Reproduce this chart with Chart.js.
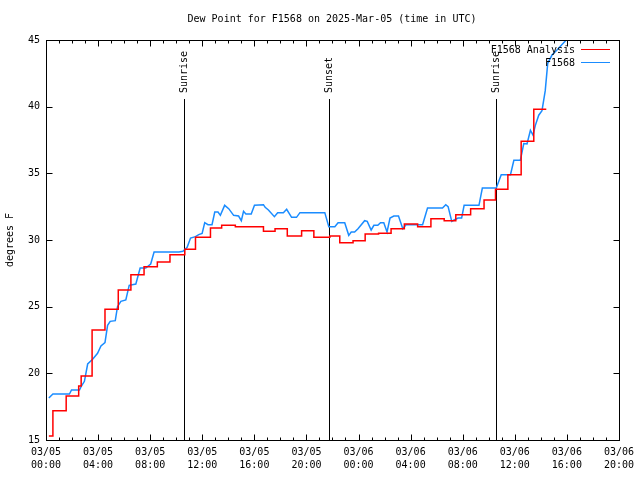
<!DOCTYPE html>
<html>
<head>
<meta charset="utf-8">
<script src="https://cdn.jsdelivr.net/npm/chart.js@4"></script>
<style>
  html, body { margin: 0; padding: 0; background: #fff; }
  #wrap { width: 640px; height: 480px; }
</style>
</head>
<body>
<div id="wrap"><canvas id="dewChart" width="640" height="480"></canvas></div>
<script>
// hours since 03/05 00:00 UTC
const analysisHours = [0.22, 0.53, 1.55, 2.51, 2.70, 3.54, 4.53, 5.55, 6.52, 7.53, 8.55, 9.52,
  10.66, 11.48, 12.63, 13.49, 14.54, 16.70, 17.59, 18.53, 19.63, 20.57, 21.80, 22.56, 23.58,
  24.51, 25.54, 26.50, 27.52, 28.54, 29.56, 30.58, 31.47, 32.61, 33.64, 34.52, 35.47, 36.49,
  37.46, 38.42];
const analysisValues = [15.3, 17.2, 18.3, 19.05, 19.8, 23.25, 24.8, 26.25, 27.4, 28.0, 28.35, 28.9,
  29.3, 30.2, 30.9, 31.1, 31.0, 30.65, 30.85, 30.3, 30.7, 30.2, 30.3, 29.8, 29.95,
  30.45, 30.5, 30.85, 31.2, 31.0, 31.6, 31.45, 31.9, 32.35, 33.0, 33.8, 34.9, 37.4,
  39.8, 39.8];

const obsHours = [0.22, 0.53, 1.80, 1.96, 2.57, 2.72, 2.95, 3.20, 3.58, 3.96, 4.22, 4.53, 4.73,
  4.93, 5.32, 5.49, 5.75, 6.13, 6.39, 6.90, 7.23, 7.66, 8.04, 8.30, 10.21, 10.51, 10.84, 11.10,
  11.48, 11.73, 11.99, 12.19, 12.44, 12.75, 12.96, 13.21, 13.39, 13.72, 14.03, 14.41, 14.79,
  15.00, 15.17, 15.35, 15.76, 16.01, 16.70, 16.83, 17.08, 17.54, 17.79, 18.23, 18.48, 18.86,
  19.24, 19.50, 21.41, 21.72, 22.18, 22.43, 22.94, 23.25, 23.44, 23.70, 23.96, 24.47, 24.67,
  24.97, 25.18, 25.48, 25.69, 25.94, 26.19, 26.42, 26.71, 27.07, 27.40, 27.65, 28.92, 29.30,
  30.45, 30.70, 30.88, 31.16, 31.34, 31.65, 31.92, 32.11, 33.25, 33.51, 34.58, 34.96, 35.67,
  35.93, 36.43, 36.69, 36.94, 37.20, 37.40, 37.58, 37.84, 38.09, 38.34, 38.53, 38.86, 39.24,
  39.95];
const obsValues = [18.15, 18.45, 18.45, 18.75, 18.75, 19.05, 19.4, 20.7, 21.05, 21.5, 22.05, 22.3, 23.6,
  23.9, 23.95, 25.0, 25.4, 25.5, 26.6, 26.7, 27.9, 27.9, 28.2, 29.1, 29.1, 29.15, 29.45, 30.15,
  30.25, 30.4, 30.5, 31.3, 31.15, 31.15, 32.1, 32.1, 31.85, 32.6, 32.35, 31.85, 31.8,
  31.45, 32.15, 31.95, 31.95, 32.6, 32.65, 32.45, 32.25, 31.75, 32.05, 32.05, 32.3, 31.7,
  31.7, 32.05, 32.05, 31.0, 31.0, 31.3, 31.3, 30.35, 30.6, 30.6, 30.85, 31.45, 31.4,
  30.75, 31.1, 31.1, 31.3, 31.3, 30.6, 31.65, 31.8, 31.8, 30.85, 31.15, 31.15, 32.4,
  32.4, 32.65, 32.5, 31.4, 31.5, 31.65, 31.65, 32.6, 32.6, 33.9, 33.9, 34.9, 34.9,
  35.98, 35.98, 37.23, 37.2, 38.23, 37.86, 38.6, 39.36, 39.7, 41.2, 43.25, 43.87, 44.25,
  45.0];

const eventNames = ['Sunrise', 'Sunset', 'Sunrise'];
const eventHours = [10.58, 21.74, 34.55];

const xTickLabels = [
  ['03/05', '00:00'], ['03/05', '04:00'], ['03/05', '08:00'], ['03/05', '12:00'],
  ['03/05', '16:00'], ['03/05', '20:00'], ['03/06', '00:00'], ['03/06', '04:00'],
  ['03/06', '08:00'], ['03/06', '12:00'], ['03/06', '16:00'], ['03/06', '20:00']
];

const seriesNames = ['F1568 Analysis', 'F1568'];
const seriesColors = ['#ff0000', '#1a8cff'];

const FONT = '10px "DejaVu Sans Mono", "Liberation Mono", monospace';

function toPoints(xs, ys) {
  return xs.map((x, i) => ({ x: x, y: ys[i] }));
}

// gnuplot-like frame: border, inward ticks, sunrise/sunset markers, legend, titles
const gnuplotFrame = {
  id: 'gnuplotFrame',
  beforeDatasetsDraw(chart) {
    const ctx = chart.ctx;
    const xs = chart.scales.x;
    const area = chart.chartArea;
    ctx.save();
    ctx.strokeStyle = '#000';
    ctx.lineWidth = 1;
    ctx.fillStyle = '#000';
    ctx.font = FONT;
    eventHours.forEach((h, i) => {
      const px = Math.round(xs.getPixelForValue(h)) + 0.5;
      ctx.beginPath();
      ctx.moveTo(px, 99);
      ctx.lineTo(px, area.bottom);
      ctx.stroke();
      ctx.save();
      ctx.translate(px, 93);
      ctx.rotate(-Math.PI / 2);
      ctx.textAlign = 'left';
      ctx.textBaseline = 'middle';
      ctx.fillText(eventNames[i], 0, 0);
      ctx.restore();
    });
    ctx.restore();
  },
  afterDraw(chart) {
    const ctx = chart.ctx;
    const xs = chart.scales.x;
    const ys = chart.scales.y;
    const a = chart.chartArea;
    const L = Math.round(a.left) + 0.5, R = Math.round(a.right) + 0.5;
    const T = Math.round(a.top) + 0.5, B = Math.round(a.bottom) + 0.5;
    ctx.save();
    ctx.strokeStyle = '#000';
    ctx.lineWidth = 1;
    ctx.strokeRect(L, T, R - L, B - T);

    ctx.beginPath();
    for (let h = 0; h <= 44; h++) {
      const px = Math.round(xs.getPixelForValue(h)) + 0.5;
      const len = h % 4 === 0 ? 6 : 3;
      ctx.moveTo(px, B); ctx.lineTo(px, B - len);
      ctx.moveTo(px, T); ctx.lineTo(px, T + len);
    }
    for (let v = 15; v <= 45; v += 5) {
      const py = Math.round(ys.getPixelForValue(v)) + 0.5;
      ctx.moveTo(L, py); ctx.lineTo(L + 6, py);
      ctx.moveTo(R, py); ctx.lineTo(R - 6, py);
    }
    ctx.stroke();

    // legend
    ctx.font = FONT;
    ctx.fillStyle = '#000';
    ctx.textAlign = 'right';
    ctx.textBaseline = 'middle';
    seriesNames.forEach((name, i) => {
      const y = 50 + i * 13;
      ctx.fillText(name, 575, y);
      ctx.strokeStyle = seriesColors[i];
      ctx.beginPath();
      ctx.moveTo(581, y - 0.5);
      ctx.lineTo(610, y - 0.5);
      ctx.stroke();
    });

    // title and y label
    ctx.textAlign = 'center';
    ctx.fillText('Dew Point for F1568 on 2025-Mar-05 (time in UTC)', 332, 19);
    ctx.save();
    ctx.translate(10, 240);
    ctx.rotate(-Math.PI / 2);
    ctx.fillText('degrees F', 0, 0);
    ctx.restore();
    ctx.restore();
  }
};

const ctx = document.getElementById('dewChart').getContext('2d');
const chart = new Chart(ctx, {
  type: 'line',
  data: {
    datasets: [
      {
        label: seriesNames[0],
        data: toPoints(analysisHours, analysisValues),
        borderColor: seriesColors[0],
        borderWidth: 1.5,
        stepped: true,
        pointRadius: 0,
        fill: false
      },
      {
        label: seriesNames[1],
        data: toPoints(obsHours, obsValues),
        borderColor: seriesColors[1],
        borderWidth: 1.5,
        pointRadius: 0,
        tension: 0,
        fill: false
      }
    ]
  },
  options: {
    responsive: false,
    animation: false,
    layout: { padding: { top: 40, right: 18, left: 0, bottom: 0 } },
    plugins: {
      legend: { display: false },
      title: { display: false },
      tooltip: { enabled: false }
    },
    scales: {
      x: {
        type: 'linear',
        min: 0,
        max: 44,
        afterFit: (s) => { s.height = 40; },
        grid: { display: false, drawTicks: false },
        border: { display: false },
        ticks: {
          stepSize: 4,
          autoSkip: false,
          maxRotation: 0,
          padding: 6,
          color: '#000',
          font: { family: '"DejaVu Sans Mono", monospace', size: 10, lineHeight: 1.3 },
          callback: (v) => xTickLabels[Math.round(v / 4)]
        }
      },
      y: {
        min: 15,
        max: 45,
        afterFit: (s) => { s.width = 46; },
        grid: { display: false, drawTicks: false },
        border: { display: false },
        ticks: {
          stepSize: 5,
          padding: 6,
          color: '#000',
          font: { family: '"DejaVu Sans Mono", monospace', size: 10 }
        }
      }
    }
  },
  plugins: [gnuplotFrame]
});
</script>
</body>
</html>
